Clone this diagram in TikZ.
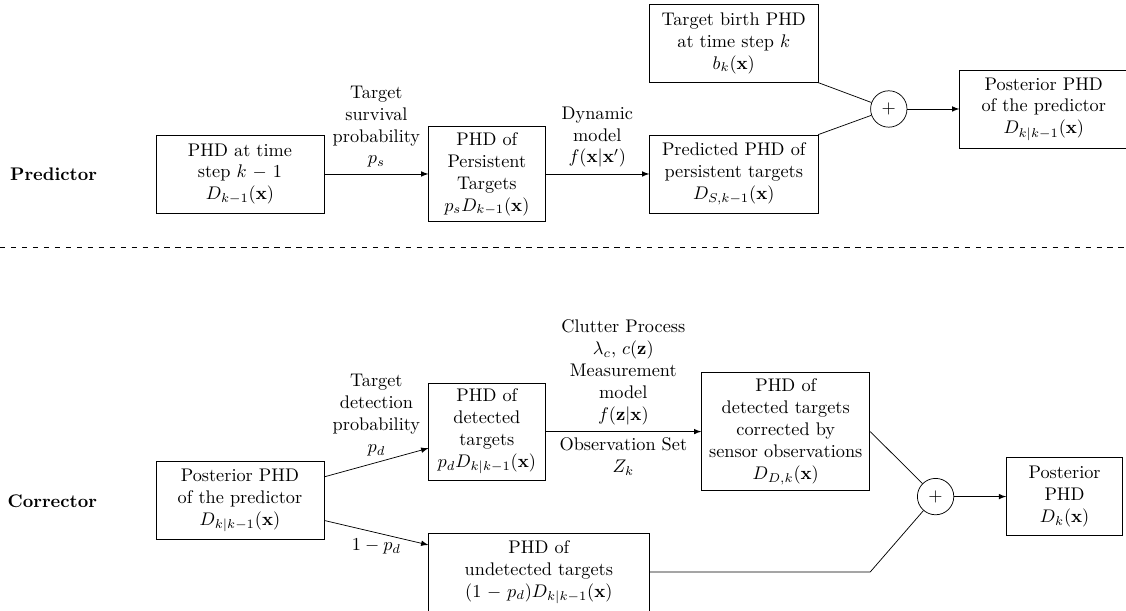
\documentclass[tikz,border=0pt]{standalone}
\usepackage{amsmath,amsfonts,amssymb}
\usepackage{tikz}
\usetikzlibrary{shapes,arrows,positioning}

\begin{document}
\begin{tikzpicture}[
    block/.style={draw, rectangle, text width=3cm, minimum height=1.5cm, align=center},
    sblock/.style={block, text width=2cm},
    wblock/.style={block, text width=4cm},
    sum/.style={draw, circle, inner sep=0pt, minimum size=0.7cm},
    arrow/.style={->, >=latex},
    lbl/.style={align=center},
    node distance=2cm
]
\useasboundingbox (-4.615,-8.404) rectangle (17.04,3.346);

% predictor
\node[block] (p1) {PHD at time\\ step $k-1$\\ $D_{k-1}(\mathbf{x})$};
\node[left=1cm of p1] (predlbl) {\textbf{Predictor}};
\node[sblock, right=of p1] (p2) {PHD of\\ Persistent\\ Targets\\ $p_sD_{k-1}(\mathbf{x})$};
\node[block, right=of p2] (p3) {Predicted PHD of\\ persistent targets\\ $D_{S,k-1}(\mathbf{x})$};
\node[block, above=1cm of p3] (p4) {Target birth PHD\\ at time step $k$\\ $b_k(\mathbf{x})$};
\node[sum, right=1cm of p3, yshift=1.25cm] (sum1) {$+$};
\node[block, right=1cm of sum1] (p5) {Posterior PHD\\ of the predictor\\ $D_{k|k-1}(\mathbf{x})$};

\draw[arrow] (p1) -- node[lbl, above] {Target\\ survival\\ probability\\ $p_s$} (p2);
\draw[arrow] (p2) -- node[lbl, above] {Dynamic\\ model\\ $f(\mathbf{x}|\mathbf{x}')$} (p3);
\draw (p4.south east) -- (sum1);
\draw (p3.north east) -- (sum1);
\draw[arrow] (sum1) -- (p5);

\draw[dashed] (-4.615,-1.404) -- (17.04,-1.404);

% corrector
\node[block, below=4.77cm of p1] (c1) {Posterior PHD\\ of the predictor\\ $D_{k|k-1}(\mathbf{x})$};
\node[left=1cm of c1] (corrlbl) {\textbf{Corrector}};
\node[sblock, right=of c1, yshift=1.33cm] (c2) {PHD of\\ detected\\ targets\\ $p_dD_{k|k-1}(\mathbf{x})$};
\node[wblock, right=of c1, yshift=-1.37cm] (c3) {PHD of\\ undetected targets\\ $(1-p_d)D_{k|k-1}(\mathbf{x})$};
\node[block, right=3cm of c2] (c4) {PHD of\\ detected targets\\ corrected by\\ sensor observations\\ $D_{D,k}(\mathbf{x})$};
\node[sum, right=0.9cm of c4, yshift=-1.25cm] (sum2) {$+$};
\node[sblock, right=1cm of sum2] (c5) {Posterior\\ PHD\\ $D_k(\mathbf{x})$};

\draw[arrow] ([yshift=0.46cm]c1.east) -- node[lbl, above] {Target\\ detection\\ probability\\ $p_d$} ([yshift=-0.32cm]c2.west);
\draw[arrow] ([yshift=-0.38cm]c1.east) -- node[lbl, below] {$1-p_d$} ([yshift=0.52cm]c3.west);
\draw[arrow] (c2) -- node[lbl, above] {Clutter Process\\ $\lambda_c$, $c(\mathbf{z})$\\ Measurement\\ model\\ $f(\mathbf{z}|\mathbf{x})$}
    node[lbl, below] {Observation Set\\ $Z_k$} (c4);
\draw (c4.east) -- (sum2);
\draw (c3.east) -- (c3.east -| c4.east) -- (sum2);
\draw[arrow] (sum2) -- (c5);

\end{tikzpicture}
\end{document}
